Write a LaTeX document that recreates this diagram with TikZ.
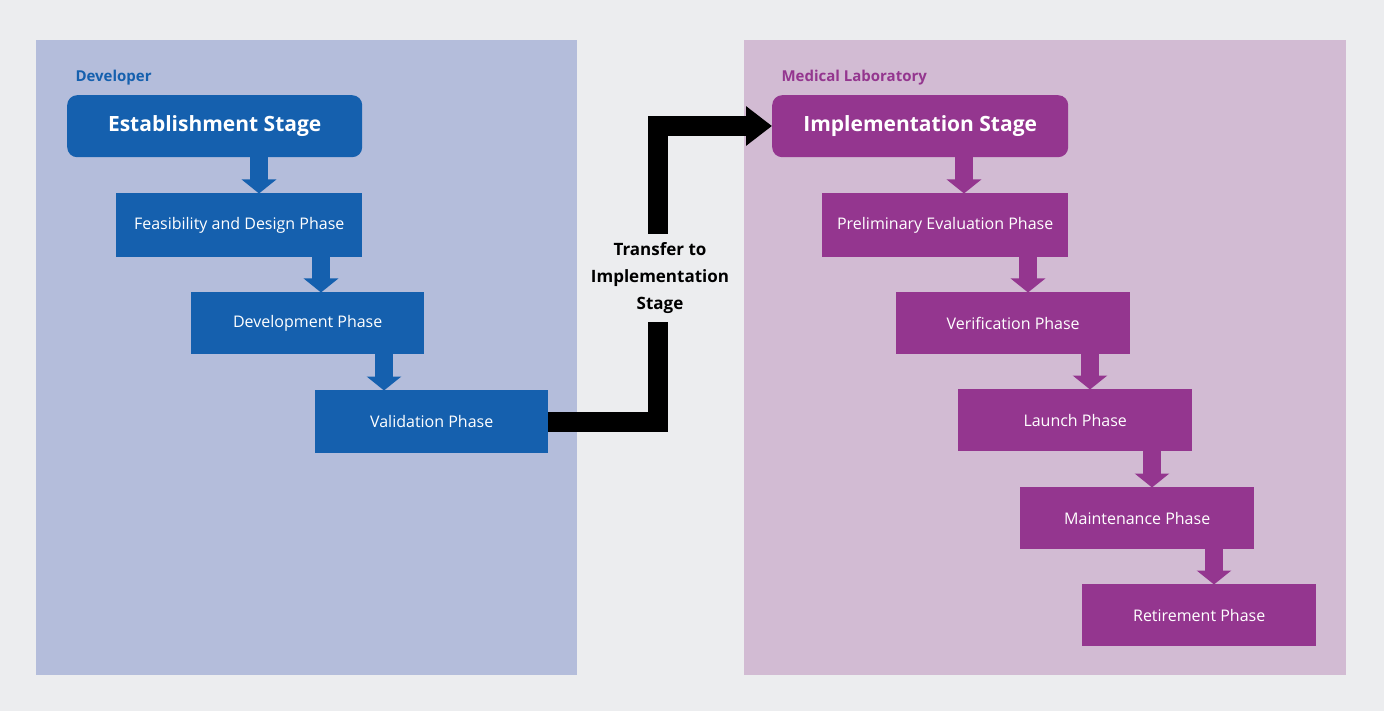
\documentclass[tikz,border=0pt]{standalone}
\usepackage{fontspec}
\setmainfont{Open Sans}
\usetikzlibrary{arrows.meta}
\definecolor{bg}{HTML}{ECEDEF}
\definecolor{lpan}{HTML}{B4BDDB}
\definecolor{rpan}{HTML}{D2BBD3}
\definecolor{blu}{HTML}{1560AE}
\definecolor{pur}{HTML}{94368F}
\begin{document}
\begin{tikzpicture}[x=1pt,y=-1pt,
  box/.style={anchor=north west,inner sep=0,text=white,font=\fontsize{16}{18}\selectfont},
  stage/.style={box,rounded corners=10pt,font=\bfseries\fontsize{21}{24}\selectfont},
  dn/.style={line width=18pt,-{Triangle[width=34pt,length=14pt]},shorten >=-0.5pt},
  lbl/.style={anchor=west,font=\bfseries\fontsize{15}{18}\selectfont}]
\fill[bg] (0,0) rectangle (1384,711);
\useasboundingbox (0,0) rectangle (1384,711);
\fill[lpan] (36,40) rectangle (577,675);
\fill[rpan] (744,40) rectangle (1346,675);
% left
\node[lbl,text=blu] (dev) at (72,78) {Developer};
\node[stage,fill=blu,minimum width=295pt,minimum height=62pt] (est) at (67,95) {Establishment Stage};
\node[box,fill=blu,minimum width=246pt,minimum height=64pt] (fea) at (116,193) {Feasibility and Design Phase};
\node[box,fill=blu,minimum width=233pt,minimum height=62pt] (dvp) at (191,292) {Development Phase};
\node[box,fill=blu,minimum width=233pt,minimum height=63pt] (val) at (315,390) {Validation Phase};
\draw[dn,blu] (est.south -| 259,0) -- (fea.north -| 259,0);
\draw[dn,blu] (fea.south -| 321,0) -- (dvp.north -| 321,0);
\draw[dn,blu] (dvp.south -| 384,0) -- (val.north -| 384,0);
% right
\node[lbl,text=pur] (med) at (778,78) {Medical Laboratory};
\node[stage,fill=pur,minimum width=296pt,minimum height=62pt] (imp) at (772,95) {Implementation Stage};
\node[box,fill=pur,minimum width=246pt,minimum height=64pt] (pre) at (822,193) {Preliminary Evaluation Phase};
\node[box,fill=pur,minimum width=234pt,minimum height=62pt] (ver) at (896,292) {Verification Phase};
\node[box,fill=pur,minimum width=234pt,minimum height=62pt] (lau) at (958,389) {Launch Phase};
\node[box,fill=pur,minimum width=234pt,minimum height=62pt] (mai) at (1020,487) {Maintenance Phase};
\node[box,fill=pur,minimum width=234pt,minimum height=62pt] (ret) at (1082,584) {Retirement Phase};
\draw[dn,pur] (imp.south -| 964,0) -- (pre.north -| 964,0);
\draw[dn,pur] (pre.south -| 1028,0) -- (ver.north -| 1028,0);
\draw[dn,pur] (ver.south -| 1090,0) -- (lau.north -| 1090,0);
\draw[dn,pur] (lau.south -| 1152,0) -- (mai.north -| 1152,0);
\draw[dn,pur] (mai.south -| 1214,0) -- (ret.north -| 1214,0);
% transfer
\draw[line width=20pt,line join=miter,-{Triangle[width=38pt,length=26pt]}]
  (val.east |- 0,422) -- (658,422) -- (658,126) -- (imp.west |- 0,126);
\node[fill=bg,inner xsep=2pt,inner ysep=8pt,align=center,font=\bfseries\fontsize{17}{27}\selectfont] (tr) at (660,278) {Transfer to\\Implementation\\Stage};
\end{tikzpicture}
\end{document}
